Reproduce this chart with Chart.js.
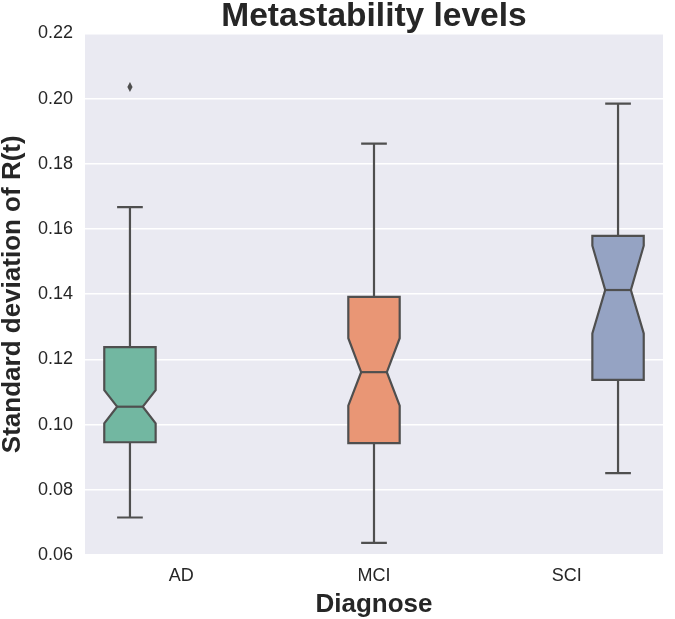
<!DOCTYPE html>
<html>
<head>
<meta charset="utf-8">
<script src="https://cdn.jsdelivr.net/npm/chart.js@4"></script>
<style>
  html, body { margin: 0; padding: 0; background: #ffffff; }
  #wrap { width: 675px; height: 619px; }
</style>
</head>
<body>
<div id="wrap"><canvas id="c" width="675" height="619"></canvas></div>
<script>
// ---- data ----
const categories   = ['AD', 'MCI', 'SCI'];
const whiskerLow   = [0.0715, 0.0637, 0.0851];
const q1           = [0.0946, 0.0943, 0.1137];
const notchLow     = [0.1004, 0.1058, 0.1280];
const median       = [0.1055, 0.1161, 0.1413];
const notchHigh    = [0.1106, 0.1265, 0.1549];
const q3           = [0.1238, 0.1392, 0.1579];
const whiskerHigh  = [0.1667, 0.1862, 0.1985];
const outliers     = [[0.2036], [], []];
const yTicks       = [0.06, 0.08, 0.10, 0.12, 0.14, 0.16, 0.18, 0.20, 0.22];
const boxColors    = ['#72b7a1', '#e99675', '#95a3c3'];

const FONT = "'Liberation Sans', Arial, sans-serif";
const TEXT = '#262626';
const LINE = '#4f4f4f';

// one dataset per diagnosis (hue), dodged like the original
const datasets = categories.map((c, d) => ({
  label: c,
  data: categories.map((_, i) => i === d ? [q1[i], q3[i]] : null),
  backgroundColor: 'rgba(0,0,0,0)',
  borderWidth: 0
}));

const bgPlugin = {
  id: 'bg',
  afterLayout(chart) {
    // centre the title over the plotting area, as in the original
    const tb = chart.titleBlock;
    if (tb) { tb.left = chart.chartArea.left; tb.right = chart.chartArea.right; }
  },
  beforeDraw(chart) {
    const { ctx, chartArea: a } = chart;
    ctx.save();
    ctx.fillStyle = '#eaeaf2';
    ctx.fillRect(a.left, a.top, a.right - a.left, a.bottom - a.top);
    ctx.restore();
  }
};

const boxPlugin = {
  id: 'notchedBox',
  afterDatasetsDraw(chart) {
    const { ctx } = chart;
    const y = chart.scales.y;
    ctx.save();
    ctx.lineWidth = 2.2;
    ctx.strokeStyle = LINE;
    ctx.lineJoin = 'miter';
    categories.forEach((_, d) => {
      const el = chart.getDatasetMeta(d).data[d];
      if (!el) return;
      const cx = el.x, w = el.width;
      const L = cx - w / 2, R = cx + w / 2;
      const nw = w / 4; // notch inset (notch width 0.5)
      const pQ1 = y.getPixelForValue(q1[d]);
      const pQ3 = y.getPixelForValue(q3[d]);
      const pNL = y.getPixelForValue(notchLow[d]);
      const pNH = y.getPixelForValue(notchHigh[d]);
      const pMed = y.getPixelForValue(median[d]);
      const pWL = y.getPixelForValue(whiskerLow[d]);
      const pWH = y.getPixelForValue(whiskerHigh[d]);
      // whiskers
      ctx.beginPath();
      ctx.moveTo(cx, pQ3); ctx.lineTo(cx, pWH);
      ctx.moveTo(cx, pQ1); ctx.lineTo(cx, pWL);
      ctx.moveTo(cx - w / 4, pWH); ctx.lineTo(cx + w / 4, pWH);
      ctx.moveTo(cx - w / 4, pWL); ctx.lineTo(cx + w / 4, pWL);
      ctx.stroke();
      // notched box
      ctx.beginPath();
      ctx.moveTo(L, pQ1);
      ctx.lineTo(R, pQ1);
      ctx.lineTo(R, pNL);
      ctx.lineTo(R - nw, pMed);
      ctx.lineTo(R, pNH);
      ctx.lineTo(R, pQ3);
      ctx.lineTo(L, pQ3);
      ctx.lineTo(L, pNH);
      ctx.lineTo(L + nw, pMed);
      ctx.lineTo(L, pNL);
      ctx.closePath();
      ctx.fillStyle = boxColors[d];
      ctx.fill();
      ctx.stroke();
      // median
      ctx.beginPath();
      ctx.moveTo(L + nw, pMed); ctx.lineTo(R - nw, pMed);
      ctx.stroke();
      // outliers (thin diamonds)
      ctx.fillStyle = LINE;
      outliers[d].forEach(v => {
        const py = y.getPixelForValue(v);
        ctx.beginPath();
        ctx.moveTo(cx, py - 5);
        ctx.lineTo(cx + 2.6, py);
        ctx.lineTo(cx, py + 5);
        ctx.lineTo(cx - 2.6, py);
        ctx.closePath();
        ctx.fill();
      });
    });
    ctx.restore();
  }
};

new Chart(document.getElementById('c'), {
  type: 'bar',
  data: { labels: categories, datasets },
  plugins: [bgPlugin, boxPlugin],
  options: {
    responsive: false,
    animation: false,
    events: [],
    layout: { padding: { left: 0, right: 12, top: 0, bottom: 0 } },
    datasets: { bar: { categoryPercentage: 0.8, barPercentage: 1.0 } },
    plugins: {
      legend: { display: false },
      tooltip: { enabled: false },
      title: {
        display: true,
        text: 'Metastability levels',
        color: TEXT,
        font: { family: FONT, size: 33.5, weight: 'bold', lineHeight: 1.0 },
        padding: { top: 0, bottom: 0 }
      }
    },
    scales: {
      x: {
        type: 'category',
        grid: { display: false },
        border: { display: false },
        ticks: { color: TEXT, font: { family: FONT, size: 18 }, padding: 2 },
        title: {
          display: true, text: 'Diagnose', color: TEXT,
          font: { family: FONT, size: 26, weight: 'bold', lineHeight: 1.0 },
          padding: { top: 0, bottom: 1 }
        },
        afterFit(s) { s.height = 64; }
      },
      y: {
        min: yTicks[0],
        max: yTicks[yTicks.length - 1],
        afterBuildTicks(s) { s.ticks = yTicks.map(v => ({ value: v })); },
        grid: { color: '#ffffff', lineWidth: 1.5, drawTicks: false },
        border: { display: false },
        ticks: {
          color: TEXT, font: { family: FONT, size: 18 }, padding: 12,
          callback: v => Number(v).toFixed(2)
        },
        title: {
          display: true, text: 'Standard deviation of R(t)', color: TEXT,
          font: { family: FONT, size: 26, weight: 'bold', lineHeight: 1.0 },
          padding: { top: 0, bottom: 0 }
        },
        afterFit(s) { s.width = 85; }
      }
    }
  }
});
</script>
</body>
</html>
